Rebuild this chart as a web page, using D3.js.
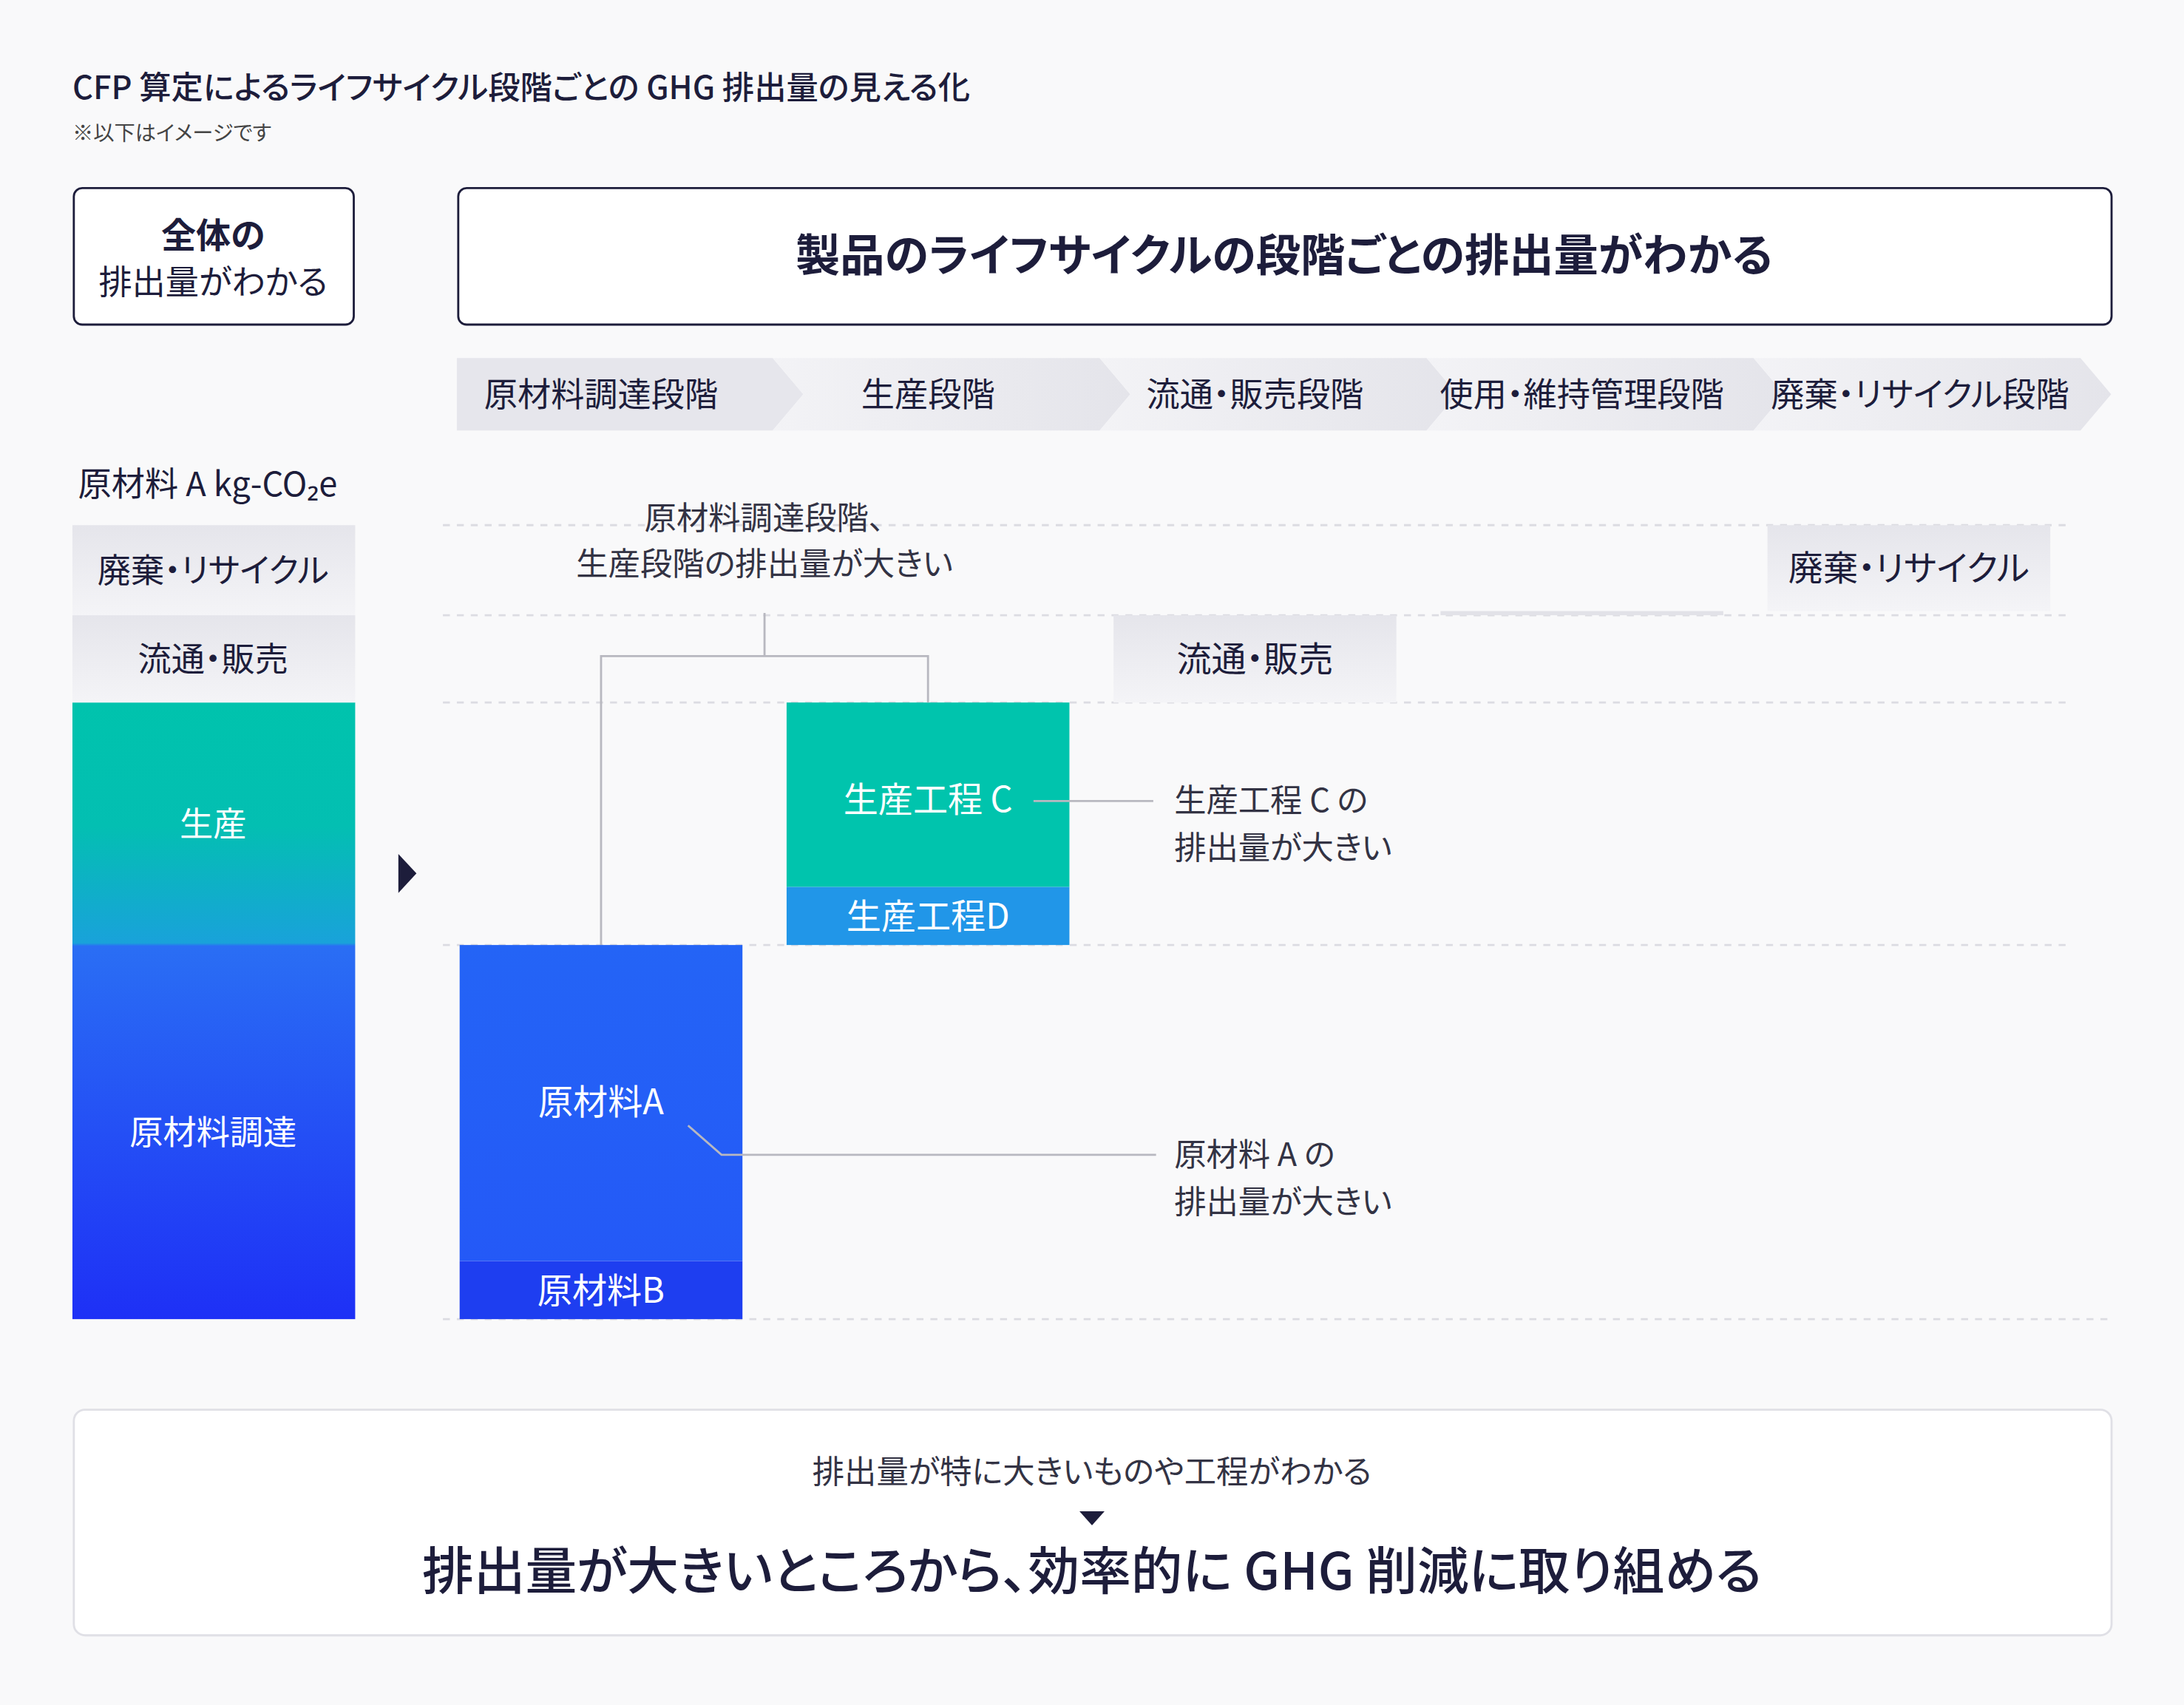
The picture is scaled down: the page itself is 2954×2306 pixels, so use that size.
<!DOCTYPE html>
<html><head><meta charset="utf-8">
<script src="https://cdn.jsdelivr.net/npm/d3@7"></script>
<style>
html,body{margin:0;padding:0;background:#f9f9fa;}
svg{display:block;font-family:"Noto Sans CJK JP","Noto Sans",sans-serif;font-feature-settings:"palt";}
</style></head>
<body><svg id="chart" width="2954" height="2306" viewBox="0 0 1568 1224"></svg>
<script>
// 段階と排出量(イメージ値)
const stages = ['原材料調達段階', '生産段階', '流通・販売段階', '使用・維持管理段階', '廃棄・リサイクル段階'];
const segNames = ['原材料B', '原材料A', '生産工程D', '生産工程C', '流通・販売', '使用・維持管理', '廃棄・リサイクル'];
const segStage = [0, 0, 1, 1, 2, 3, 4];
const segValues = [42, 228, 42, 133, 63, 3, 62];
const segLabels = ['原材料B', '原材料A', '生産工程D', '生産工程 C', '流通・販売', '', '廃棄・リサイクル'];
const totalNames = ['原材料調達', '生産', '流通・販売', '廃棄・リサイクル'];
const totalValues = [270, 175, 63, 65];
const gridValues = [0, 270, 445, 508, 573];

const INK = '#1d1d3b';
const svg = d3.select('#chart');
const defs = svg.append('defs');

function lin(id, stops, x2, y2) {
  const g = defs.append('linearGradient').attr('id', id)
    .attr('x1', 0).attr('y1', 0).attr('x2', x2 || 0).attr('y2', y2 == null ? 1 : y2);
  stops.forEach(s => g.append('stop').attr('offset', s[0]).attr('stop-color', s[1]));
}
lin('gray', [[0, '#e5e5eb'], [1, '#f4f4f7']]);
lin('arrowG', [[0, '#f3f3f6'], [1, '#e4e4ea']], 1, 0);
lin('rawA', [[0, '#2464f6'], [1, '#2459f7']]);
lin('totalG', [[0, '#00c3ad'], [0.2, '#03bfb2'], [0.39, '#19a2da'], [0.395, '#2a6ef4'], [1, '#1e30f6']]);

svg.append('rect').attr('width', 1568).attr('height', 1224).attr('fill', '#f9f9fa');

const total = d3.sum(segValues);
const y = d3.scaleLinear().domain([0, total]).range([947, 377]);
const x = d3.scaleBand().domain(stages).range([330, 1472]).paddingInner(0.135);

// タイトル
svg.append('text').attr('x', 52).attr('y', 71).attr('font-size', 23).attr('font-weight', 500).attr('fill', INK)
  .text('CFP 算定によるライフサイクル段階ごとの GHG 排出量の見える化');
svg.append('text').attr('x', 52).attr('y', 101).attr('font-size', 15).attr('fill', '#444')
  .text('※以下はイメージです');

// 見出しボックス
svg.append('rect').attr('x', 53).attr('y', 135).attr('width', 201).attr('height', 98).attr('rx', 6)
  .attr('fill', '#fff').attr('stroke', INK).attr('stroke-width', 1.5);
svg.append('text').attr('x', 153).attr('y', 178).attr('text-anchor', 'middle').attr('font-size', 25)
  .attr('font-weight', 700).attr('fill', INK).text('全体の');
svg.append('text').attr('x', 153).attr('y', 211).attr('text-anchor', 'middle').attr('font-size', 24)
  .attr('fill', INK).text('排出量がわかる');
svg.append('rect').attr('x', 329).attr('y', 135).attr('width', 1187).attr('height', 98).attr('rx', 6)
  .attr('fill', '#fff').attr('stroke', INK).attr('stroke-width', 1.5);
svg.append('text').attr('x', 922).attr('y', 195).attr('text-anchor', 'middle').attr('font-size', 32)
  .attr('font-weight', 700).attr('fill', INK).text('製品のライフサイクルの段階ごとの排出量がわかる');

// 段階矢印
const step = x.step();
stages.forEach((s, i) => {
  const x0 = 328 + i * step, x1 = x0 + step - 8, h0 = 257, h1 = 309, tip = 22;
  const pts = i === 0
    ? [[x0, h0], [x1, h0], [x1 + tip, 283], [x1, h1], [x0, h1]]
    : [[x0 - 8, h0], [x1, h0], [x1 + tip, 283], [x1, h1], [x0 - 8, h1], [x0 + tip - 8, 283]];
  svg.append('polygon').attr('points', pts.map(p => p.join(',')).join(' '))
    .attr('fill', i === 0 ? '#e6e6ec' : 'url(#arrowG)');
  svg.append('text').attr('x', x(s) + x.bandwidth() / 2 + (i === 4 ? 8 : 0)).attr('y', 292)
    .attr('text-anchor', 'middle').attr('font-size', 24).attr('fill', INK).text(s);
});

// 単位
svg.append('text').attr('x', 56).attr('y', 356).attr('font-size', 24).attr('fill', INK).text('原材料 A kg-CO₂e');

// グリッド
svg.selectAll('.grid').data(gridValues).enter().append('line')
  .attr('x1', 318).attr('x2', (d, i) => i === 0 ? 1518 : 1488)
  .attr('y1', d => y(d)).attr('y2', d => y(d))
  .attr('stroke', '#dcdce2').attr('stroke-width', 1.5).attr('stroke-dasharray', '5,5');

// 全体の積み上げ
let acc = 0;
const totals = totalValues.map((v, i) => { const r = { name: totalNames[i], y0: acc, y1: acc + v }; acc += v; return r; });
svg.append('rect').attr('x', 52).attr('width', 203)
  .attr('y', y(totals[1].y1)).attr('height', y(0) - y(totals[1].y1)).attr('fill', 'url(#totalG)');
totals.forEach((t, i) => {
  if (i >= 2) svg.append('rect').attr('x', 52).attr('width', 203).attr('y', y(t.y1))
    .attr('height', y(t.y0) - y(t.y1)).attr('fill', 'url(#gray)');
  svg.append('text').attr('x', 153).attr('y', (y(t.y0) + y(t.y1)) / 2 + 9).attr('text-anchor', 'middle')
    .attr('font-size', 24).attr('fill', i < 2 ? '#fff' : INK).text(t.name);
});
svg.append('path').attr('d', 'M286,613 L299,627 L286,641 Z').attr('fill', INK);

// ウォーターフォール
acc = 0;
const segs = segValues.map((v, i) => { const r = { i, y0: acc, y1: acc + v }; acc += v; return r; });
const fills = ['#1e3ef0', 'url(#rawA)', '#2196e8', '#00c4ad', 'url(#gray)', '#e2e2e8', 'url(#gray)'];
svg.selectAll('.seg').data(segs).enter().append('rect')
  .attr('x', d => x(stages[segStage[d.i]])).attr('width', x.bandwidth())
  .attr('y', d => y(d.y1)).attr('height', d => Math.max(2, y(d.y0) - y(d.y1)))
  .attr('fill', d => fills[d.i]);
svg.selectAll('.segl').data(segs.filter(d => segLabels[d.i])).enter().append('text')
  .attr('x', d => x(stages[segStage[d.i]]) + x.bandwidth() / 2)
  .attr('y', d => d.i === 1 ? 800 : d.i === 3 ? 583 : (y(d.y0) + y(d.y1)) / 2 + 9)
  .attr('text-anchor', 'middle').attr('font-size', 25)
  .attr('fill', d => d.i >= 4 ? INK : '#fff').text(d => segLabels[d.i]);

// 注記
const ann = '#333344', lc = '#b8b8c0';
const xa = x(stages[0]) + x.bandwidth() / 2, xc = x(stages[1]) + x.bandwidth() / 2;
svg.append('path').attr('fill', 'none').attr('stroke', lc).attr('stroke-width', 1.5)
  .attr('d', `M${xa},${y(270)} V471 H${xc} V${y(445)} M${(xa + xc) / 2},471 V440`);
svg.append('text').attr('x', (xa + xc) / 2).attr('y', 380).attr('text-anchor', 'middle').attr('font-size', 23).attr('fill', ann).text('原材料調達段階、');
svg.append('text').attr('x', (xa + xc) / 2).attr('y', 413).attr('text-anchor', 'middle').attr('font-size', 23).attr('fill', ann).text('生産段階の排出量が大きい');
svg.append('path').attr('fill', 'none').attr('stroke', lc).attr('stroke-width', 1.5).attr('d', 'M742,575 H828');
svg.append('path').attr('fill', 'none').attr('stroke', lc).attr('stroke-width', 1.5).attr('d', 'M494,808 L518,829 H830');
[['生産工程 C の', 583], ['排出量が大きい', 617], ['原材料 A の', 837], ['排出量が大きい', 871]].forEach(t =>
  svg.append('text').attr('x', 843).attr('y', t[1]).attr('font-size', 23).attr('fill', ann).text(t[0]));

// 下部ボックス
svg.append('rect').attr('x', 53).attr('y', 1012).attr('width', 1463).attr('height', 162).attr('rx', 8)
  .attr('fill', '#fff').attr('stroke', '#e0e0e6').attr('stroke-width', 1.5);
svg.append('text').attr('x', 784).attr('y', 1065).attr('text-anchor', 'middle').attr('font-size', 23)
  .attr('fill', ann).text('排出量が特に大きいものや工程がわかる');
svg.append('path').attr('d', 'M775,1085 H793 L784,1095 Z').attr('fill', INK);
svg.append('text').attr('x', 784).attr('y', 1141).attr('text-anchor', 'middle').attr('font-size', 37)
  .attr('font-weight', 500).attr('fill', INK).text('排出量が大きいところから、効率的に GHG 削減に取り組める');
</script></body></html>
